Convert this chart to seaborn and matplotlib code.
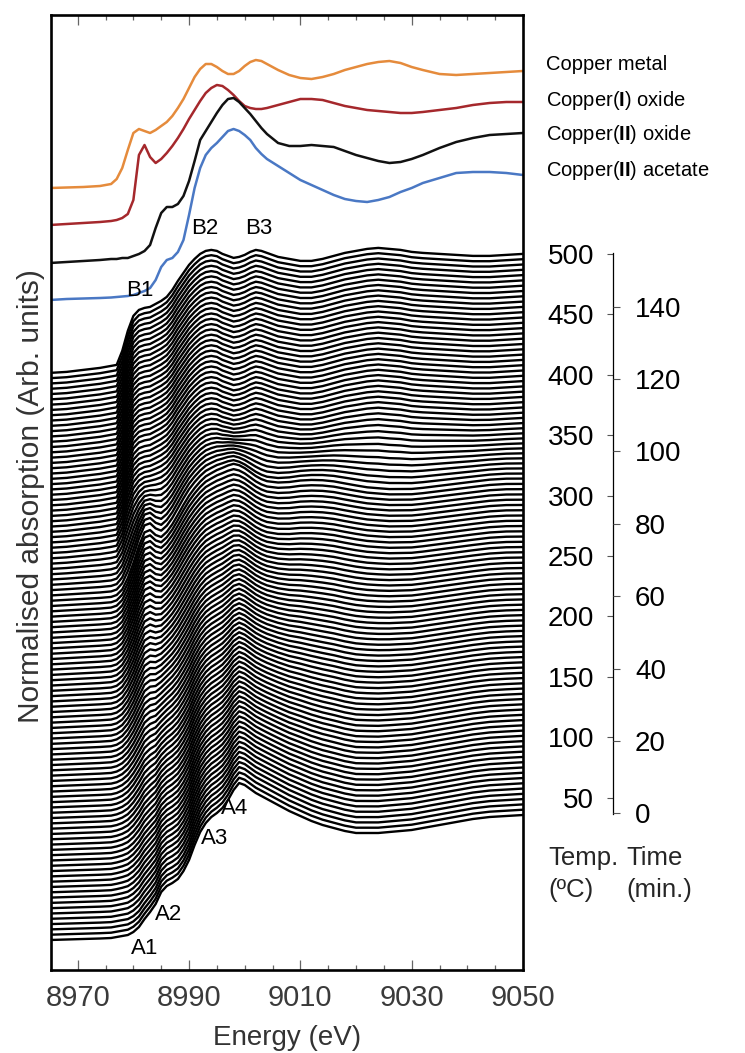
import numpy as np
import pandas as pd
import matplotlib
matplotlib.use("Agg")
import matplotlib.pyplot as plt
from matplotlib.ticker import MultipleLocator
import seaborn as sns

# ---------------- data ----------------
energy = [8965, 8968, 8971, 8974, 8976,
          8977, 8978, 8979, 8980, 8981, 8982, 8983, 8984, 8985, 8986,
          8987, 8988, 8989, 8990, 8991, 8992, 8993, 8994, 8995, 8996,
          8997, 8998, 8999, 9000, 9001, 9002, 9003, 9004,
          9006, 9008, 9010, 9012, 9014, 9016, 9018, 9020, 9022, 9024,
          9026, 9028, 9030, 9032,
          9035, 9038, 9041, 9044, 9047, 9050]

# reference spectra (arb. units above their own pre-edge)
cu_metal_ref = [0, 0.5, 1, 2, 4,
                9, 20, 38, 55, 59, 57, 55, 58, 62, 66, 72, 80, 89, 100, 111,
                119, 124, 124, 121, 117, 114, 114, 117, 122, 126, 128, 127, 124,
                118, 113, 110, 109, 111, 114, 118, 121, 124, 126, 127, 125, 121, 118,
                114, 113, 114, 115, 116, 117]
cu2o_ref = [0, 1, 2, 3, 4,
            5, 7, 11, 25, 70, 80, 68, 62, 66, 72, 79, 87, 96, 106, 115,
            124, 132, 137, 140, 139, 135, 130, 124, 119, 117, 116, 116, 117,
            120, 123, 126, 126, 125, 122, 119, 117, 115, 114, 113, 112, 112, 113,
            115, 117, 120, 122, 123, 123]
cuo_ref = [0, 1, 2, 3, 4,
           4, 5, 5, 7, 9, 12, 18, 35, 50, 56, 56, 59, 67, 82, 102,
           123, 132, 141, 150, 158, 164, 165, 161, 155, 149, 142, 135, 129,
           120, 117, 117, 118, 117, 116, 112, 108, 105, 102, 100, 101, 104, 108,
           115, 121, 125, 128, 129, 130]
cu_acetate_ref = [0, 1, 1.5, 2, 2.5,
                  3, 3.5, 4, 5, 7, 9, 12, 20, 33, 40, 42, 48, 60, 85, 112,
                  132, 145, 152, 157, 163, 169, 171, 169, 165, 160, 152, 146, 141,
                  134, 127, 120, 115, 110, 105, 101, 99, 98, 100, 103, 108, 112, 117,
                  122, 127, 128, 128, 127, 125]

# in-situ component spectra: start (Cu II), intermediate (Cu I), end (Cu 0)
insitu_cu2 = [0, 0.5, 1, 1.5, 2,
              3, 4, 5, 8, 13, 21, 28, 36, 48, 54, 57, 61, 69, 80, 95,
              108, 117, 123, 127, 132, 140, 150, 157, 155, 151, 147, 144, 141,
              135, 129, 124, 119, 115, 112, 109, 107, 107, 107, 108, 109, 110, 112,
              115, 118, 121, 123, 124, 125]
insitu_cu1 = [0, 1, 2, 3, 4,
              6, 12, 24, 40, 58, 72, 74, 68, 65, 70, 78, 88, 98, 107, 114,
              120, 125, 128, 131, 133, 135, 136, 134, 131, 127, 123, 120, 118,
              117, 118, 120, 121, 121, 120, 118, 116, 114, 113, 112, 112, 112, 113,
              115, 117, 119, 121, 122, 122]
insitu_cu0 = [0, 1, 3, 5, 7,
              8, 22, 42, 57, 63, 65, 66, 69, 72, 76, 83, 92, 100, 108, 114,
              119, 122, 123, 122, 119, 117, 115, 116, 118, 121, 123, 122, 120,
              116, 114, 112, 112, 114, 117, 120, 122, 124, 125, 124, 123, 121, 120,
              119, 118, 117, 117, 118, 119]

# phase fractions of each in-situ spectrum (bottom -> top)
frac_cu1 = [0.00, 0.00, 0.00, 0.00, 0.01, 0.02, 0.03, 0.04, 0.05, 0.06,
            0.07, 0.08, 0.09, 0.10, 0.11, 0.12, 0.13, 0.15, 0.16, 0.18,
            0.19, 0.21, 0.22, 0.24, 0.25, 0.27, 0.29, 0.30, 0.32, 0.34,
            0.36, 0.38, 0.40, 0.42, 0.44, 0.46, 0.48, 0.50, 0.52, 0.54,
            0.56, 0.58, 0.60, 0.62, 0.64, 0.66, 0.68, 0.70, 0.72, 0.74,
            0.76, 0.78, 0.80, 0.82, 0.84, 0.85, 0.86, 0.87, 0.88, 0.89,
            0.90, 0.91, 0.92, 0.93, 0.93, 0.92, 0.88, 0.82, 0.74, 0.64,
            0.53, 0.42, 0.32, 0.24, 0.17, 0.12, 0.08, 0.05, 0.03, 0.02,
            0.01] + [0.0] * 27
frac_cu0 = [0.0] * 65 + [0.05, 0.10, 0.17, 0.25, 0.35, 0.46, 0.57, 0.67, 0.75, 0.82,
                         0.87, 0.91, 0.94, 0.96, 0.97, 0.98, 0.99, 1.0, 1.0, 1.0] + [1.0] * 23

ref_names = ["Copper metal", "Copper(I) oxide", "Copper(II) oxide", "Copper(II) acetate"]
ref_labels = ["Copper metal", r"Copper($\mathbf{I}$) oxide",
              r"Copper($\mathbf{II}$) oxide", r"Copper($\mathbf{II}$) acetate"]
ref_colors = ["#E58B3C", "#A5282C", "#111111", "#4A78C4"]

energy_ticks = [8970, 8990, 9010, 9030, 9050]
temp_ticks = [50, 100, 150, 200, 250, 300, 350, 400, 450, 500]
time_ticks = [0, 20, 40, 60, 80, 100, 120, 140]

peak_labels = ["B1", "B2", "B3", "A1", "A2", "A3", "A4"]
peak_pos = [(8981.2, 649), (8992.8, 712), (9002.5, 712),
            (8982.1, -8), (8986.4, 26), (8994.5, 102), (8998.2, 131)]

# ---------------- layout / style ----------------
SPACING = 5.3                      # vertical offset between in-situ spectra
REF_OFFSETS = [752, 715, 677, 640]  # vertical offsets of reference spectra

sns.set_theme(style="white")
plt.rcParams['font.family'] = ['Liberation Sans', 'DejaVu Sans']
plt.rcParams['mathtext.fontset'] = 'custom'
plt.rcParams['mathtext.rm'] = 'Liberation Sans'
plt.rcParams['mathtext.bf'] = 'Liberation Sans:bold'

W, H = 745, 1053
fig = plt.figure(figsize=(W / 100, H / 100), dpi=100)
fig.patch.set_facecolor("white")


def fx(px):
    return px / W


def fy(py):
    return 1 - py / H


ax = fig.add_axes([fx(51), fy(970), fx(523) - fx(51), fy(15) - fy(970)])

# in-situ waterfall
e = np.array(energy, dtype=float)
c2 = np.array(insitu_cu2, dtype=float)
c1 = np.array(insitu_cu1, dtype=float)
c0 = np.array(insitu_cu0, dtype=float)
rows = []
for i, (f1, f0) in enumerate(zip(frac_cu1, frac_cu0)):
    f2 = max(0.0, 1.0 - f1 - f0)
    spec = f2 * c2 + f1 * c1 + f0 * c0 + i * SPACING
    rows.append(pd.DataFrame({"energy": e, "y": spec, "spectrum": i}))
df = pd.concat(rows, ignore_index=True)
sns.lineplot(data=df, x="energy", y="y", units="spectrum", estimator=None,
             color="black", lw=1.7, sort=False, ax=ax, legend=False)

# reference spectra
ref_rows = []
for name, vals, off in zip(ref_names, [cu_metal_ref, cu2o_ref, cuo_ref, cu_acetate_ref], REF_OFFSETS):
    ref_rows.append(pd.DataFrame({"energy": e, "y": np.array(vals, dtype=float) + off, "name": name}))
dref = pd.concat(ref_rows, ignore_index=True)
sns.lineplot(data=dref, x="energy", y="y", hue="name", palette=dict(zip(ref_names, ref_colors)),
             estimator=None, lw=1.8, sort=False, ax=ax, legend=False)

ax.set_xlim(8965.2, 9049.8)
ax.set_ylim(-30, 925)
ax.set_yticks([])
ax.set_xlabel("")
ax.set_ylabel("")
ax.set_xticks(energy_ticks)
ax.xaxis.set_minor_locator(MultipleLocator(5))
ax.tick_params(axis="x", which="both", direction="in", top=True, bottom=True,
               color="#666666", width=0.9, labelsize=21, labelcolor="#3a3a3a", pad=10)
ax.tick_params(axis="x", which="major", length=7.5)
ax.tick_params(axis="x", which="minor", length=3.5)
for s in ax.spines.values():
    s.set_visible(True)
    s.set_color("black")
    s.set_linewidth(1.9)

for lab, (xx, yy) in zip(peak_labels, peak_pos):
    ax.text(xx, yy, lab, ha="center", va="center", fontsize=16, color="black")

# legend-like labels for the reference spectra
for lab, py in zip(ref_labels, [64, 101, 135, 171]):
    fig.text(fx(546), fy(py), lab, ha="left", va="center", fontsize=14.5, color="black")

fig.text(fx(287), fy(1045), "Energy (eV)", ha="center", va="baseline", fontsize=20, color="#333333")
fig.text(fx(31), fy(496), "Normalised absorption (Arb. units)", ha="center", va="center",
         rotation=90, fontsize=21.5, color="#333333")

# temperature / time axes
ax_r = fig.add_axes([fx(613), fy(814), 1e-4, fy(252.7) - fy(814)])
ax_r.patch.set_visible(False)
ax_r.set_ylim(36.5, 501.1)
ax_r.set_yticks(temp_ticks)
ax_r.set_xticks([])
for s in ["top", "right", "bottom"]:
    ax_r.spines[s].set_visible(False)
ax_r.spines["left"].set_color("black")
ax_r.spines["left"].set_linewidth(0.9)
ax_r.tick_params(axis="y", direction="out", length=4.3, width=0.8, color="#555555",
                 labelsize=20, pad=9.4, labelcolor="black", left=True)

ax_t = ax_r.twinx()
ax_t.patch.set_visible(False)
ax_t.set_ylim(-0.19, 154.9)
ax_t.set_yticks(time_ticks)
for s in ax_t.spines.values():
    s.set_visible(False)
ax_t.tick_params(axis="y", direction="out", length=4.8, width=0.8, color="#555555",
                 labelsize=20, pad=11, labelcolor="black", right=True)

fig.text(fx(548), fy(865), "Temp.", ha="left", va="baseline", fontsize=18.5)
fig.text(fx(548), fy(897), "(ºC)", ha="left", va="baseline", fontsize=18.5)
fig.text(fx(626), fy(865), "Time", ha="left", va="baseline", fontsize=18.5)
fig.text(fx(626), fy(897), "(min.)", ha="left", va="baseline", fontsize=18.5)

fig.savefig("out.png", dpi=100, facecolor="white")
